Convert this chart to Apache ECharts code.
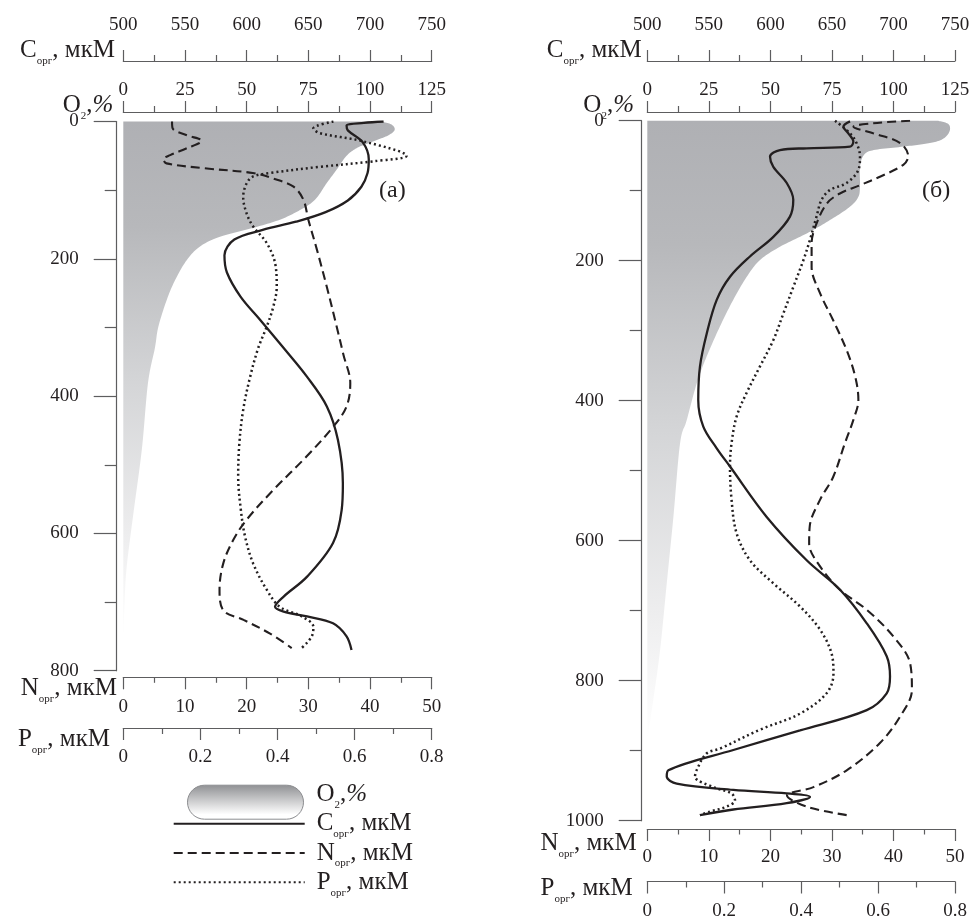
<!DOCTYPE html>
<html><head><meta charset="utf-8">
<script src="https://cdn.jsdelivr.net/npm/echarts@6/dist/echarts.min.js"></script>
<style>html,body{margin:0;padding:0;background:#fff}#c{width:971px;height:917px}</style>
</head><body><div id="c"></div>
<script>
// ---------- Panel (а) ----------
const o2DepthA = [0,4,12,20,28,38,50,70,90,114,129,143,155,168,182,202,231,260,299,330,381,478,576,648,700,760];
const o2ValA   = [104,108.5,110,107.5,102,95,90.5,86.5,82.4,77.7,71.6,63.5,52.6,39.2,31.1,25.7,21,17.6,14.2,12.8,10,7.5,3.9,1.4,0.5,0];
const cDepthA = [0,2,6,13,30,55,75,95,115,132,146,158,172,195,220,255,289,330,372,415,464,527,566,614,663,692,707,714,721,731,750,770];
const cValA   = [711,695,681,682,694,699,698,693,682,664,640,613,590,582,584,595,611,630,649,665,674,678,677,670,649,630,623,630,649,670,681,685];
const nDepthA = [0,10,20,28,39,49,55,61,68,75,83,95,114,143,187,241,299,340,381,415,445,488,537,580,610,644,682,712,726,746,767];
const nValA   = [7.9,8.0,10.3,12.7,10.3,7.6,6.5,7.0,13,21,24.3,27.6,29.2,30,31.4,33,34.6,35.7,36.8,36.2,34,29.7,24.3,20,17.8,16.2,15.6,16.2,19.5,23.8,27.3];
const pDepthA = [0,10,17,29,50,58,66,75,80,90,110,134,153,177,207,241,270,299,330,372,420,469,517,566,605,644,682,707,721,736,750,767];
const pValA   = [0.545,0.493,0.510,0.623,0.735,0.649,0.510,0.381,0.337,0.320,0.311,0.320,0.337,0.372,0.394,0.398,0.389,0.372,0.350,0.329,0.311,0.301,0.298,0.305,0.316,0.337,0.372,0.406,0.463,0.493,0.489,0.463];

// ---------- Panel (б) ----------
const o2DepthB = [0,4,11,20,28,33,37,42,49,66,94,109,123,142,161,180,199,223,256,294,337,375,428,461,566,661,756,828,875,885];
const o2ValB   = [118,122,123,122,119,113,104,92,88,86.4,86.4,85.7,82.3,74.2,64.8,53.9,45.8,40.4,34.9,29.5,24.1,20.1,16,13.3,10.6,7.9,5.2,2.4,0.4,0];
const cDepthB = [1,8.6,18,30,37,39.4,41.9,51.4,66,89,113,137,166,194,223,256,304,351,399,437,468,494,566,628,670,718,765,794,818,842,871,899,928,937,947,956,961,966,975,984,992];
const cValB   = [664.7,659.3,663.3,667.4,664.7,629.5,607.8,599.7,602.4,613.3,618.6,615.9,602.4,583.4,567.2,556.4,548.3,542.8,541.4,545.5,556.4,567.2,597,629.5,656.6,678.3,694.5,697.2,694.5,678.3,624.1,569.9,517.1,515.8,523.9,569.9,613.3,632.2,613.3,569.9,542.8];
const nDepthB = [0,3.7,8.6,18,32,51,63,80,92,104,118,147,175,209,247,285,328,366,399,427,461,509,541,579,604,637,670,699,737,775,813,851,889,928,952,964,980,992];
const nValB   = [42.7,36.7,33.5,36.7,41.1,42.4,41.6,37.8,34.6,31.3,29.2,27.5,26.7,26.7,28.1,30.2,32.4,33.8,34.3,33.5,32.1,30.2,28.1,26.4,26.3,28.1,31.3,35.7,40.0,42.7,43.0,41.1,37.8,32.4,27.0,22.7,25.9,32.4];
const pDepthB = [0,18,32,51,70,89,99,113,137,170,199,237,275,313,351,389,423,461,494,541,589,628,661,694,727,761,790,818,847,870,897,904,928,937,952,961,971,980,987,992];
const pValB   = [0.488,0.527,0.544,0.553,0.549,0.518,0.475,0.453,0.440,0.423,0.406,0.380,0.354,0.328,0.293,0.258,0.232,0.219,0.215,0.219,0.232,0.267,0.328,0.397,0.449,0.479,0.484,0.466,0.397,0.293,0.189,0.154,0.128,0.124,0.172,0.219,0.228,0.206,0.163,0.137];

// ---------- Axis labels ----------
const nameC = '{b|C}{s|орг}{b|, мкМ}';
const nameO2 = '{b|O}{s|2}{b|,}{i|%}';
const nameN = '{b|N}{s|орг}{b|, мкМ}';
const nameP = '{b|P}{s|орг}{b|, мкМ}';
const panelLabels = ['(а)', '(б)'];

const FF = 'Liberation Serif', TX = '#231f20', AX = '#5d5d5f';
const rich = {
  b: {fontFamily: FF, fontSize: 25, lineHeight: 26, color: TX},
  i: {fontFamily: FF, fontSize: 25, lineHeight: 26, color: TX, fontStyle: 'italic'},
  s: {fontFamily: FF, fontSize: 11, height: 5, padding: [21, 0, 0, 0], color: TX}
};

function xAx(grid, pos, offset, min, max, interval, tickLen, minorLen, margin, name, nameGap, namePad) {
  return {
    type: 'value', gridIndex: grid, position: pos, offset: offset, min: min, max: max, interval: interval,
    axisLine: {show: true, onZero: false, lineStyle: {color: AX, width: 1.2}},
    axisTick: {show: true, length: tickLen, lineStyle: {color: AX, width: 1.2}},
    minorTick: {show: true, splitNumber: 2, length: minorLen, lineStyle: {color: AX, width: 1.2}},
    splitLine: {show: false}, minorSplitLine: {show: false},
    axisLabel: {show: true, margin: margin, color: TX, fontFamily: FF, fontSize: 19, showMinLabel: true, showMaxLabel: true, hideOverlap: false,
      formatter: v => String(+v.toFixed(3))},
    name: name, nameLocation: 'start', nameGap: nameGap, nameMoveOverlap: false,
    nameTextStyle: {rich: rich, padding: namePad}
  };
}
function yAx(grid, max, offset) {
  return {
    type: 'value', gridIndex: grid, inverse: true, min: 0, max: max, interval: 200, position: 'left', offset: offset,
    axisLine: {show: true, onZero: false, lineStyle: {color: AX, width: 1.2}},
    axisTick: {show: true, length: 23, lineStyle: {color: AX, width: 1.2}},
    minorTick: {show: true, splitNumber: 2, length: 12, lineStyle: {color: AX, width: 1.2}},
    splitLine: {show: false}, minorSplitLine: {show: false},
    axisLabel: {show: true, margin: 38, color: TX, fontFamily: FF, fontSize: 19, showMinLabel: true, showMaxLabel: true, hideOverlap: false,
      formatter: v => String(v)}
  };
}

function catmull(p, n) {
  const out = [];
  for (let i = 0; i < p.length - 1; i++) {
    const p0 = p[Math.max(i - 1, 0)], p1 = p[i], p2 = p[i + 1], p3 = p[Math.min(i + 2, p.length - 1)];
    for (let k = 0; k < n; k++) {
      const t = k / n, t2 = t * t, t3 = t2 * t;
      const f = j => 0.5 * (2 * p1[j] + (-p0[j] + p2[j]) * t + (2 * p0[j] - 5 * p1[j] + 4 * p2[j] - p3[j]) * t2 + (-p0[j] + 3 * p1[j] - 3 * p2[j] + p3[j]) * t3);
      out.push([f(0), f(1)]);
    }
  }
  out.push(p[p.length - 1]);
  return out;
}
function areaGrad() {
  return new echarts.graphic.LinearGradient(0, 0, 0, 1, [
    {offset: 0, color: '#afb0b4'}, {offset: 0.2, color: '#b7b8bb'}, {offset: 0.5, color: '#d4d5d7'},
    {offset: 0.8, color: '#eeeeef'}, {offset: 1, color: '#ffffff'}]);
}
function o2Series(xi, yi, depth, vals) {
  return {
    type: 'custom', name: 'O2', xAxisIndex: xi, yAxisIndex: yi, silent: true, z: 1,
    data: depth.map((d, i) => [vals[i], d]),
    itemStyle: {color: '#b0b1b4'},
    renderItem: function (params, api) {
      if (params.dataIndex !== 0) return null;
      const pts = depth.map((d, i) => api.coord([vals[i], d]));
      const curve = catmull(pts, 12);
      const top = api.coord([0, depth[0]]);
      const bot = api.coord([0, depth[depth.length - 1]]);
      return {type: 'polygon', shape: {points: [top].concat(curve).concat([bot])}, style: {fill: areaGrad(), stroke: null}};
    }
  };
}
const lsC = {color: TX, width: 2.3, type: 'solid'};
const lsN = {color: TX, width: 2.1, type: [9, 5]};
const lsP = {color: TX, width: 2.5, type: [2, 3]};
function lineSeries(name, xi, yi, depth, vals, ls) {
  return {type: 'line', name: name, xAxisIndex: xi, yAxisIndex: yi, data: depth.map((d, i) => [vals[i], d]),
    smooth: 0.35, symbol: 'none', showSymbol: false, lineStyle: ls, z: 3, silent: true};
}

const legendNames = {O2: nameO2, C: nameC, N: nameN, P: nameP};
const chart = echarts.init(document.getElementById('c'), null, {renderer: 'canvas'});
chart.setOption({
  animation: false,
  backgroundColor: '#fff',
  grid: [
    {left: 123.3, top: 121.5, width: 308.4, height: 549.2, containLabel: false, outerBoundsMode: 'none'},
    {left: 647.3, top: 120.7, width: 307.7, height: 700, containLabel: false, outerBoundsMode: 'none'}
  ],
  xAxis: [
    xAx(0, 'top', 60.5, 500, 750, 50, 11, 6, 26, nameC, 8.3, [0, 0, 20.4, 0]),
    xAx(0, 'top', 9.5, 0, 125, 25, 11, 6, 12, nameO2, 10, [0, 0, 13.4, 0]),
    xAx(0, 'bottom', 6.6, 0, 50, 10, 12, 5.5, 20, nameN, 6.3, [22, 0, 0, 0]),
    xAx(0, 'bottom', 57.3, 0, 0.8, 0.2, 12, 6, 20, nameP, 13.3, [23.4, 0, 0, 0]),
    xAx(1, 'top', 59.7, 500, 750, 50, 11, 6, 26, nameC, 5.6, [0, 0, 21.4, 0]),
    xAx(1, 'top', 8.7, 0, 125, 25, 11, 6, 12, nameO2, 13.3, [0, 0, 12.4, 0]),
    xAx(1, 'bottom', 8.3, 0, 50, 10, 12, 5.5, 19, nameN, 10.6, [28.6, 0, 0, 0]),
    xAx(1, 'bottom', 60.8, 0, 0.8, 0.2, 12, 6, 20, nameP, 14.6, [14, 0, 0, 0])
  ],
  yAxis: [yAx(0, 800, 6.6), yAx(1, 1000, 5.6)],
  title: [
    {text: panelLabels[0], left: 379, top: 179, padding: 0, textStyle: {fontFamily: FF, fontSize: 24, fontWeight: 'normal', color: TX}},
    {text: panelLabels[1], left: 922, top: 179, padding: 0, textStyle: {fontFamily: FF, fontSize: 24, fontWeight: 'normal', color: TX}}
  ],
  legend: [
    {
      left: 187, top: 782.2, padding: 0, itemWidth: 116, itemHeight: 34, selectedMode: false,
      data: [{name: 'O2', icon: 'path://M17,0L99,0A17,17,0,0,1,99,34L17,34A17,17,0,0,1,17,0Z',
        itemStyle: {color: new echarts.graphic.LinearGradient(0, 0, 0, 1, [{offset: 0, color: '#8f9093'}, {offset: 0.85, color: '#ffffff'}]),
          borderColor: '#8c8d90', borderWidth: 1}}],
      formatter: n => legendNames[n],
      textStyle: {rich: rich, padding: [0, 0, 15, 8]}
    },
    {
      left: 172.7, top: 811.3, padding: 0, orient: 'vertical', itemWidth: 131, itemHeight: 26, itemGap: 0.7, selectedMode: false,
      data: ['C', 'N', 'P'],
      itemStyle: {color: 'rgba(0,0,0,0)', borderColor: 'rgba(0,0,0,0)', borderWidth: 0, opacity: 0},
      formatter: n => legendNames[n],
      textStyle: {rich: rich, padding: [0, 0, 0, 7]}
    }
  ],
  series: [
    o2Series(1, 0, o2DepthA, o2ValA),
    lineSeries('C', 0, 0, cDepthA, cValA, lsC),
    lineSeries('N', 2, 0, nDepthA, nValA, lsN),
    lineSeries('P', 3, 0, pDepthA, pValA, lsP),
    o2Series(5, 1, o2DepthB, o2ValB),
    lineSeries('C', 4, 1, cDepthB, cValB, lsC),
    lineSeries('N', 6, 1, nDepthB, nValB, lsN),
    lineSeries('P', 7, 1, pDepthB, pValB, lsP)
  ]
});
</script></body></html>
